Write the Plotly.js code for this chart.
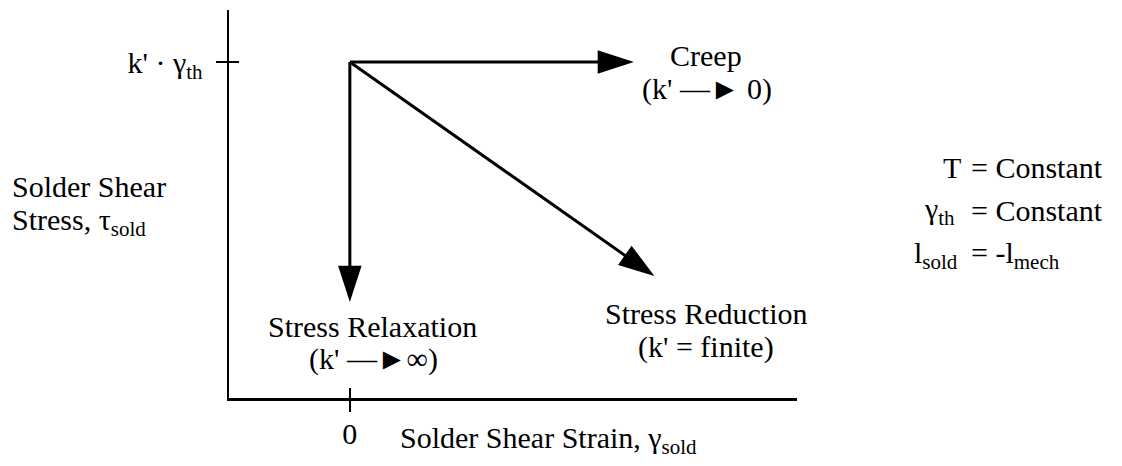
<!DOCTYPE html>
<html>
<head>
<meta charset="utf-8">
<script src="https://cdn.plot.ly/plotly-3.0.1.min.js"></script>
<style>html,body{margin:0;padding:0;background:#fff;}#chart{width:1122px;height:466px;}</style>
</head>
<body>
<div id="chart"></div>
<script>
// ---- data ----
const pathNames = ['Creep', 'Stress Relaxation', 'Stress Reduction'];
const pathLabels = ["(k' \u2014\u25BA 0)", "(k' \u2014\u25BA\u221E)", "(k' = finite)"];
const startStrain = 0;          // strain at start of all paths
const startStress = 1;          // k'·γth (normalised)
const endStrain = [1.175, 0, 1.26];
const endStress = [1, 0.286, 0.363];
const xTickVals = [0];
const xTickText = ['0'];
const yTickVals = [1];
const yTickText = ["k' \u00B7 \u03B3<sub>th</sub>"];
const conditionLeft = ['T', '\u03B3<sub>th</sub>', 'l<sub>sold</sub>'];
const conditionRight = ['= Constant', '= Constant', '= -l<sub>mech</sub>'];

// ---- layout helpers ----
const W = 1122, H = 466;
const L = 229, R = 797, T = 10, B = 398;
const FX = px => (px - L) / (R - L);
const FY = py => (B - py) / (B - T);
const FONT = '"Liberation Serif", serif';
const FS = 30;

const traces = pathNames.map((n, i) => ({
  type: 'scatter', mode: 'lines+markers', name: n,
  x: [startStrain, endStrain[i]], y: [startStress, endStress[i]],
  line: {color: '#000000', width: 3},
  marker: {symbol: 'arrow', angleref: 'previous', size: [0, 38], color: '#000000', opacity: 1, line: {width: 0}},
  opacity: 1, hoverinfo: 'skip', showlegend: false, cliponaxis: false
}));

const ann = [];
function txt(text, px, py, xanchor) {
  ann.push({text: text, x: FX(px), y: FY(py), xref: 'paper', yref: 'paper',
    xanchor: xanchor || 'center', yanchor: 'middle', showarrow: false,
    font: {family: FONT, size: FS, color: '#000'}});
}
txt(pathNames[0], 706, 55);
txt(pathLabels[0], 707, 89);
txt(pathNames[1], 372, 326);
txt(pathLabels[1], 373, 359);
txt(pathNames[2], 706, 313);
txt(pathLabels[2], 706, 347);
txt('Solder Shear', 10, 186, 'left');
txt('Stress, \u03C4<sub>sold</sub>', 10, 222, 'left');
txt('Solder Shear Strain, \u03B3<sub>sold</sub>', 398, 440, 'left');
const rowY = [167, 211, 255];
const leftX = [963, 957, 960];
rowY.forEach((y, i) => {
  txt(conditionLeft[i], leftX[i], y, 'right');
  txt(conditionRight[i], 969, y, 'left');
});

const axBase = {
  showgrid: false, zeroline: false, showline: true, linecolor: '#000', linewidth: 2.5,
  ticks: 'outside', ticklen: 11, tickwidth: 2.5, tickcolor: '#000', fixedrange: true,
  tickfont: {family: FONT, size: FS, color: '#000'}
};

const layout = {
  width: W, height: H, margin: {l: L, r: W - R, t: T, b: H - B},
  paper_bgcolor: '#fff', plot_bgcolor: '#fff', showlegend: false,
  font: {family: FONT, size: FS, color: '#000'},
  xaxis: Object.assign({}, axBase, {range: [-0.5, 1.85], tickvals: xTickVals, ticktext: xTickText, ticklabelstandoff: -4}),
  yaxis: Object.assign({}, axBase, {range: [0, 1.155], tickvals: yTickVals, ticktext: yTickText, ticklabelstandoff: 7}),
  xaxis2: {overlaying: 'x', matches: 'x', range: [-0.5, 1.85], side: 'bottom', showgrid: false, zeroline: false, showline: false,
    ticks: 'inside', ticklen: 10, tickwidth: 2.5, tickcolor: '#000', tickvals: xTickVals, showticklabels: false},
  yaxis2: {overlaying: 'y', range: [0, 1.155], side: 'left', showgrid: false, zeroline: false, showline: false,
    ticks: 'inside', ticklen: 10, tickwidth: 2.5, tickcolor: '#000', tickvals: yTickVals, showticklabels: false},
  annotations: ann
};

// invisible trace to show the overlay axes (inner half of the crossing ticks)
traces.push({type: 'scatter', x: [startStrain], y: [startStress], xaxis: 'x2', yaxis: 'y2', mode: 'markers',
  marker: {opacity: 0}, hoverinfo: 'skip', showlegend: false});

Plotly.newPlot('chart', traces, layout, {displayModeBar: false, staticPlot: true});
</script>
</body>
</html>
